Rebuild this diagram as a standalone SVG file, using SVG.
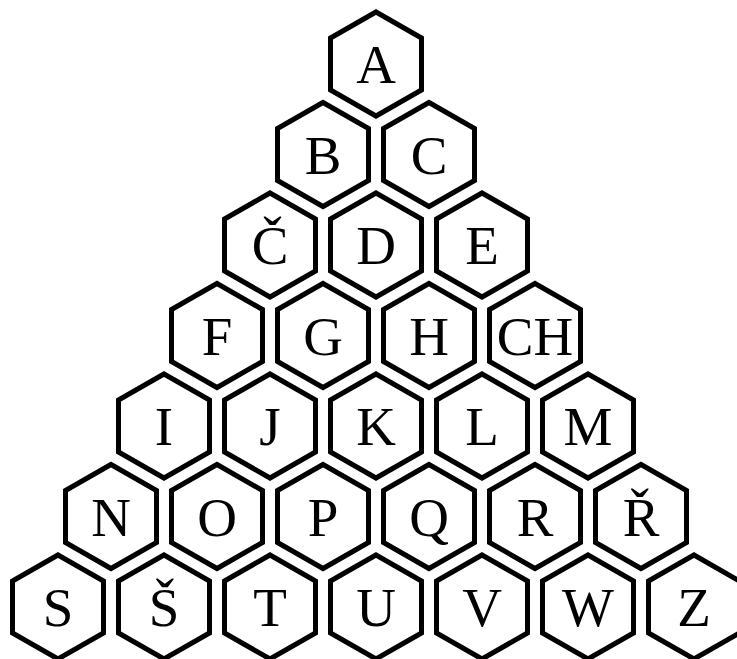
<svg xmlns="http://www.w3.org/2000/svg" xmlns:xlink="http://www.w3.org/1999/xlink" width="737" height="659" viewBox="0 0 737 659">
<style>
.hex{fill:#fff;stroke:#000;stroke-width:5;stroke-linejoin:miter}
.lbl{font-family:"Liberation Serif","Times New Roman",serif;font-size:55px;fill:#000;text-anchor:middle}
</style>
<defs>
<polygon id="hex" class="hex" points="0,-52 45.5,-26 45.5,26 0,52 -45.5,26 -45.5,-26"/>
</defs>
<rect width="737" height="659" fill="#fff"/>
<g id="node-A" transform="translate(376,64)"><use href="#hex"/><text class="lbl" y="19">A</text></g>
<g id="node-B" transform="translate(323,154.5)"><use href="#hex"/><text class="lbl" y="19">B</text></g>
<g id="node-C" transform="translate(429,154.5)"><use href="#hex"/><text class="lbl" y="19">C</text></g>
<g id="node-Ccaron" transform="translate(270,245)"><use href="#hex"/><text class="lbl" y="19">Č</text></g>
<g id="node-D" transform="translate(376,245)"><use href="#hex"/><text class="lbl" y="19">D</text></g>
<g id="node-E" transform="translate(482,245)"><use href="#hex"/><text class="lbl" y="19">E</text></g>
<g id="node-F" transform="translate(217,335.5)"><use href="#hex"/><text class="lbl" y="19">F</text></g>
<g id="node-G" transform="translate(323,335.5)"><use href="#hex"/><text class="lbl" y="19">G</text></g>
<g id="node-H" transform="translate(429,335.5)"><use href="#hex"/><text class="lbl" y="19">H</text></g>
<g id="node-CH" transform="translate(535,335.5)"><use href="#hex"/><text class="lbl" y="19">CH</text></g>
<g id="node-I" transform="translate(164,426)"><use href="#hex"/><text class="lbl" y="19">I</text></g>
<g id="node-J" transform="translate(270,426)"><use href="#hex"/><text class="lbl" y="19">J</text></g>
<g id="node-K" transform="translate(376,426)"><use href="#hex"/><text class="lbl" y="19">K</text></g>
<g id="node-L" transform="translate(482,426)"><use href="#hex"/><text class="lbl" y="19">L</text></g>
<g id="node-M" transform="translate(588,426)"><use href="#hex"/><text class="lbl" y="19">M</text></g>
<g id="node-N" transform="translate(111,516.5)"><use href="#hex"/><text class="lbl" y="19">N</text></g>
<g id="node-O" transform="translate(217,516.5)"><use href="#hex"/><text class="lbl" y="19">O</text></g>
<g id="node-P" transform="translate(323,516.5)"><use href="#hex"/><text class="lbl" y="19">P</text></g>
<g id="node-Q" transform="translate(429,516.5)"><use href="#hex"/><text class="lbl" y="19">Q</text></g>
<g id="node-R" transform="translate(535,516.5)"><use href="#hex"/><text class="lbl" y="19">R</text></g>
<g id="node-Rcaron" transform="translate(641,516.5)"><use href="#hex"/><text class="lbl" y="19">Ř</text></g>
<g id="node-S" transform="translate(58,607)"><use href="#hex"/><text class="lbl" y="19">S</text></g>
<g id="node-Scaron" transform="translate(164,607)"><use href="#hex"/><text class="lbl" y="19">Š</text></g>
<g id="node-T" transform="translate(270,607)"><use href="#hex"/><text class="lbl" y="19">T</text></g>
<g id="node-U" transform="translate(376,607)"><use href="#hex"/><text class="lbl" y="19">U</text></g>
<g id="node-V" transform="translate(482,607)"><use href="#hex"/><text class="lbl" y="19">V</text></g>
<g id="node-W" transform="translate(588,607)"><use href="#hex"/><text class="lbl" y="19">W</text></g>
<g id="node-Z" transform="translate(694,607)"><use href="#hex"/><text class="lbl" y="19">Z</text></g>
</svg>
